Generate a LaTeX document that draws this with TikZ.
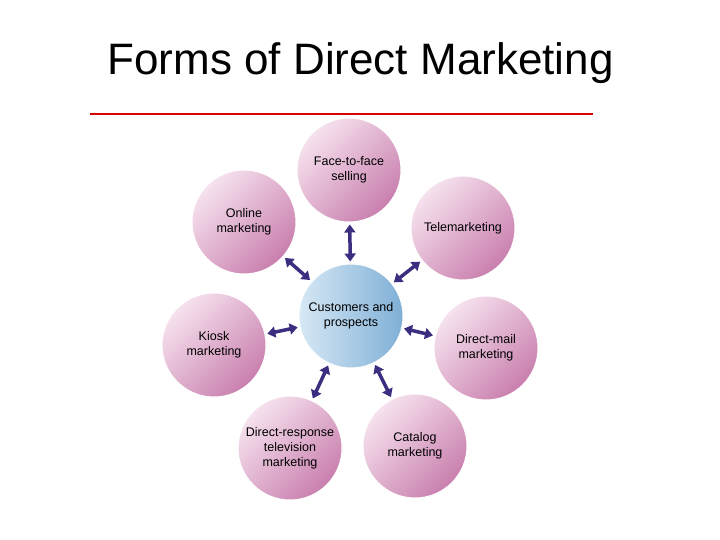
\documentclass[tikz,border=0pt]{standalone}
\usepackage{fontspec}
\setmainfont{Liberation Sans}
\usetikzlibrary{arrows.meta}
\definecolor{arrc}{HTML}{3B2E80}
\definecolor{pinkL}{HTML}{F6E2EE}
\definecolor{pinkD}{HTML}{C97FAE}
\definecolor{blueL}{HTML}{D6E8F5}
\definecolor{blueD}{HTML}{7FAFD6}
\tikzset{
  ball/.style={circle,minimum size=104pt,inner sep=0pt,align=center,font=\fontsize{12.5}{15}\selectfont,
    left color=pinkL,right color=pinkD,shading angle=45,draw=white,line width=1pt},
  cball/.style={ball,left color=blueL,right color=blueD},
  arr/.style={{Triangle[length=8pt,width=11pt]}-{Triangle[length=8pt,width=11pt]},line width=3.5pt,draw=arrc,shorten >=2pt,shorten <=2pt}
}
\begin{document}
\begin{tikzpicture}[x=1pt,y=-1pt]
\useasboundingbox (0,0) rectangle (720,540);
\node[anchor=west] (t) at (104,63) {\fontsize{44}{48}\selectfont Forms of Direct Marketing};
\draw[red!85!black,line width=2pt] (90,114) coordinate (l1) -- (593,114) coordinate (l2);
\node[cball] (c) at (351,316) {Customers and\\prospects};
\node[ball] (f) at (349,170) {Face-to-face\\selling};
\node[ball] (tm) at (463,228) {Telemarketing};
\node[ball] (o) at (244,222) {Online\\marketing};
\node[ball] (k) at (214,345) {Kiosk\\marketing};
\node[ball] (dm) at (486,348) {Direct-mail\\marketing};
\node[ball] (dr) at (290,448) {Direct-response\\television\\marketing};
\node[ball] (ca) at (415,446) {Catalog\\marketing};
\foreach \n in {f,tm,o,k,dm,dr,ca} \draw[arr] (c) -- (\n);
\end{tikzpicture}
\end{document}
